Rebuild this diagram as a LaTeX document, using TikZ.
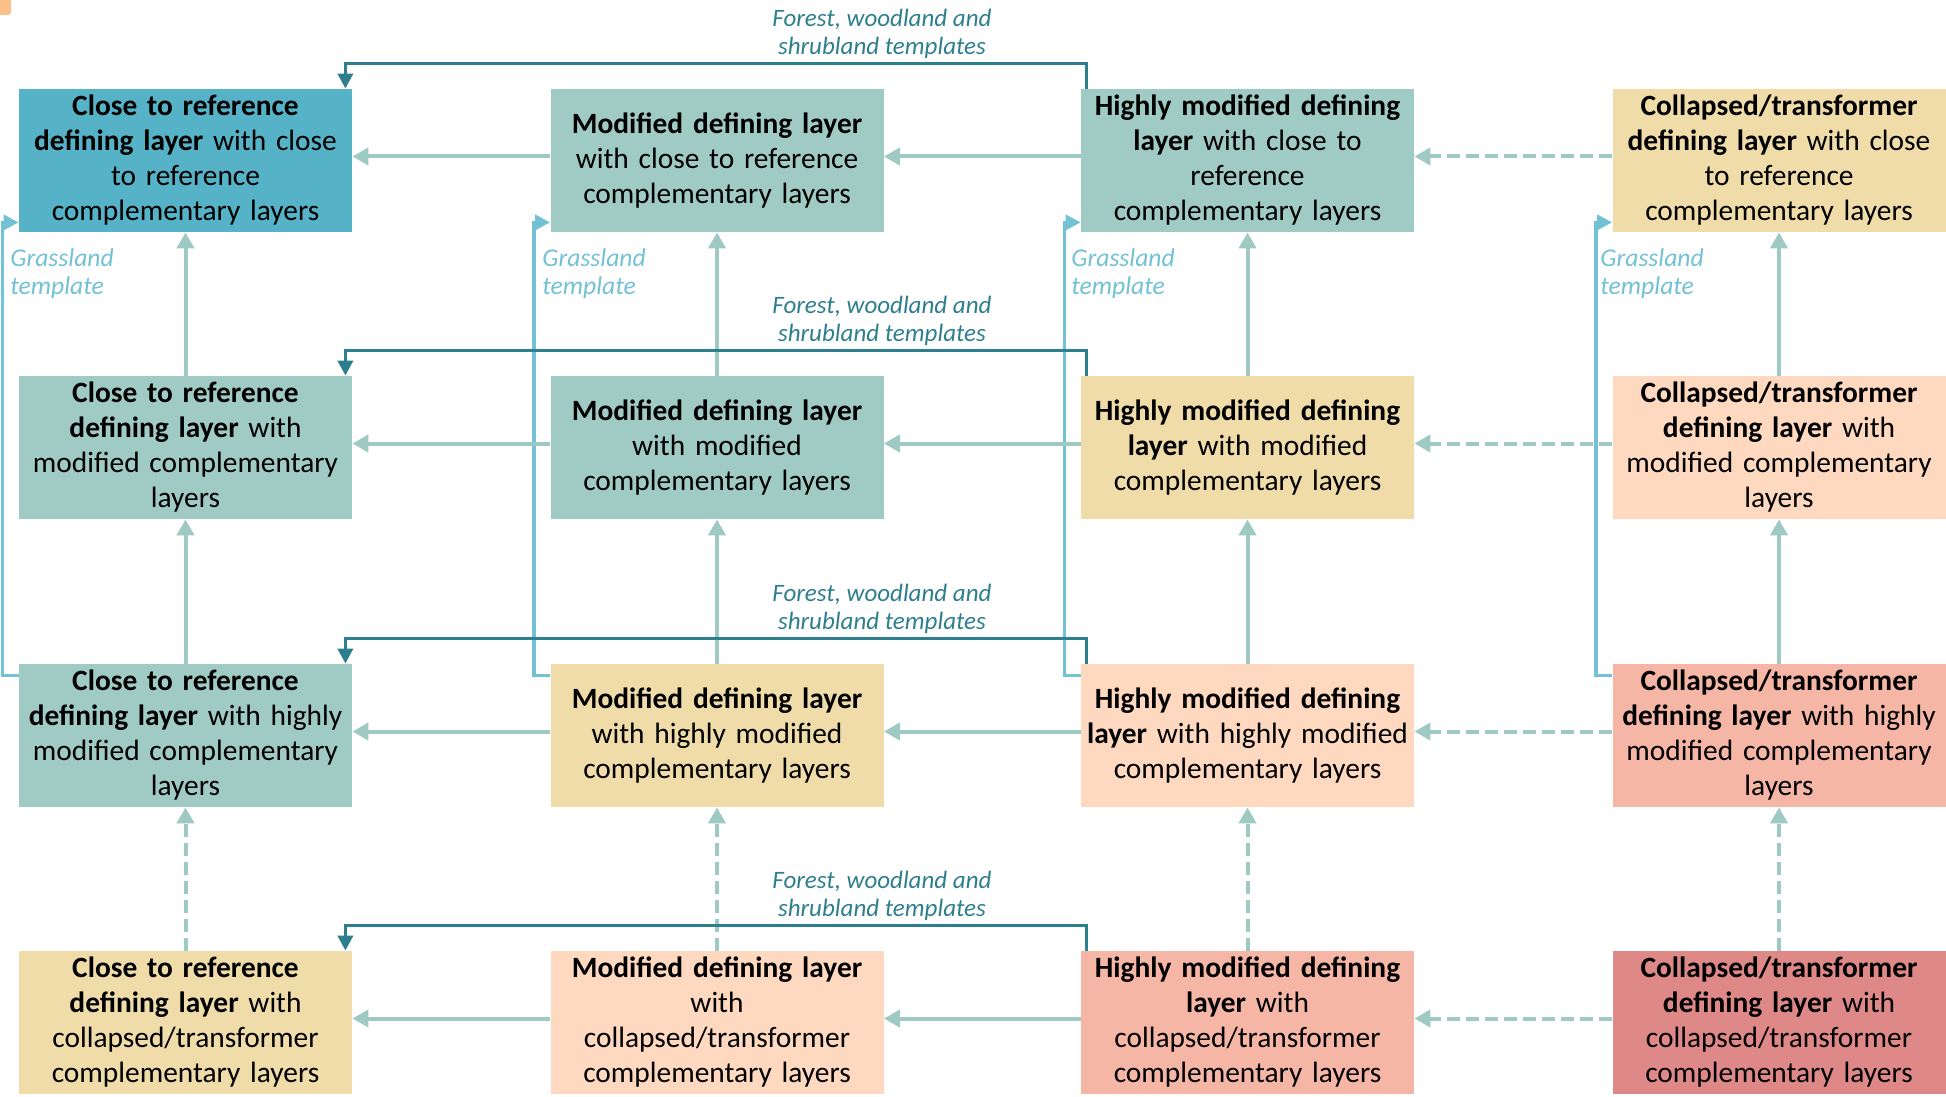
\documentclass[tikz,border=0pt]{standalone}
\usepackage{fontspec}
\setmainfont{Carlito}
\usetikzlibrary{arrows.meta}
\definecolor{cblue}{HTML}{56B3C7}
\definecolor{cteal}{HTML}{A0CBC4}
\definecolor{cwheat}{HTML}{EFDCA9}
\definecolor{cpeach}{HTML}{FED9BF}
\definecolor{csalmon}{HTML}{F5B6A6}
\definecolor{crose}{HTML}{DF8888}
\definecolor{carrow}{HTML}{9ECAC3}
\definecolor{cgrass}{HTML}{72C1D5}
\definecolor{cforest}{HTML}{2E7F8E}
\definecolor{ccorner}{HTML}{FBC08A}
\tikzset{
  box/.style={minimum width=166.5pt, minimum height=71.5pt, inner sep=0pt,
    text width=164pt, align=center, text=black,
    font=\fontsize{14.7}{17.5}\selectfont},
  flowarrow/.style={draw=carrow, line width=2pt, -{Triangle[length=8pt,width=8.5pt]}},
  dasharrow/.style={flowarrow, dash pattern=on 6.5pt off 3pt},
  grass/.style={draw=cgrass, line width=1.8pt, -{Triangle[length=7.5pt,width=7.5pt]}},
  forest/.style={draw=cforest, line width=1.8pt, -{Triangle[length=7.5pt,width=7.5pt]}},
  grasslabel/.style={anchor=west, align=left, inner sep=0pt, text=cgrass,
    font=\fontsize{12.8}{14}\selectfont\itshape},
  forestlabel/.style={align=center, inner sep=0pt, text=cforest,
    font=\fontsize{12.5}{14}\selectfont\itshape},
}
\begin{document}
\begin{tikzpicture}[x=0.5pt,y=-0.5pt]
\useasboundingbox (0,0) rectangle (1946,1096);
\fill[ccorner, rounded corners=1.5pt] (-6,-6) rectangle (11,15);

% row 1
\node[box, fill=cblue] (r1c1) at (185.5,160.5) {\textbf{Close to reference}\\\textbf{defining layer} with close\\to reference\\complementary layers};
\node[box, fill=cteal] (r1c2) at (717,160.5) {\textbf{Modified defining layer}\\with close to reference\\complementary layers};
\node[box, fill=cteal] (r1c3) at (1247.5,160.5) {\textbf{Highly modified defining}\\\textbf{layer} with close to\\reference\\complementary layers};
\node[box, fill=cwheat] (r1c4) at (1779,160.5) {\textbf{Collapsed/transformer}\\\textbf{defining layer} with close\\to reference\\complementary layers};
% row 2
\node[box, fill=cteal] (r2c1) at (185.5,447.5) {\textbf{Close to reference}\\\textbf{defining layer} with\\modified complementary\\layers};
\node[box, fill=cteal] (r2c2) at (717,447.5) {\textbf{Modified defining layer}\\with modified\\complementary layers};
\node[box, fill=cwheat] (r2c3) at (1247.5,447.5) {\textbf{Highly modified defining}\\\textbf{layer} with modified\\complementary layers};
\node[box, fill=cpeach] (r2c4) at (1779,447.5) {\textbf{Collapsed/transformer}\\\textbf{defining layer} with\\modified complementary\\layers};
% row 3
\node[box, fill=cteal] (r3c1) at (185.5,735.5) {\textbf{Close to reference}\\\textbf{defining layer} with highly\\modified complementary\\layers};
\node[box, fill=cwheat] (r3c2) at (717,735.5) {\textbf{Modified defining layer}\\with highly modified\\complementary layers};
\node[box, fill=cpeach] (r3c3) at (1247.5,735.5) {\textbf{Highly modified defining}\\\textbf{layer} with highly modified\\complementary layers};
\node[box, fill=csalmon] (r3c4) at (1779,735.5) {\textbf{Collapsed/transformer}\\\textbf{defining layer} with highly\\modified complementary\\layers};
% row 4
\node[box, fill=cwheat] (r4c1) at (185.5,1022.5) {\textbf{Close to reference}\\\textbf{defining layer} with\\collapsed/transformer\\complementary layers};
\node[box, fill=cpeach] (r4c2) at (717,1022.5) {\textbf{Modified defining layer}\\with\\collapsed/transformer\\complementary layers};
\node[box, fill=csalmon] (r4c3) at (1247.5,1022.5) {\textbf{Highly modified defining}\\\textbf{layer} with\\collapsed/transformer\\complementary layers};
\node[box, fill=crose] (r4c4) at (1779,1022.5) {\textbf{Collapsed/transformer}\\\textbf{defining layer} with\\collapsed/transformer\\complementary layers};

% grassland template connectors
\foreach \c in {1,2,3,4}{
  \draw[grass] ([yshift=-6pt]r3c\c.north west) -- ++(-16,0) |- ([yshift=5pt]r1c\c.south west);
}
\node[grasslabel] (g1) at (10,274) {Grassland\\template};
\node[grasslabel] (g2) at (542,274) {Grassland\\template};
\node[grasslabel] (g3) at (1071,274) {Grassland\\template};
\node[grasslabel] (g4) at (1600,274) {Grassland\\template};

% horizontal arrows
\foreach \r in {1,2,3,4}{
  \draw[flowarrow] ([yshift=2pt]r\r c2.west) -- ([yshift=2pt]r\r c1.east);
  \draw[flowarrow] ([yshift=2pt]r\r c3.west) -- ([yshift=2pt]r\r c2.east);
  \draw[dasharrow] ([yshift=2pt]r\r c4.west) -- ([yshift=2pt]r\r c3.east);
}
% vertical arrows
\foreach \c in {1,2,3,4}{
  \draw[flowarrow] (r2c\c.north) -- (r1c\c.south);
  \draw[flowarrow] (r3c\c.north) -- (r2c\c.south);
  \draw[dasharrow] (r4c\c.north) -- (r3c\c.south);
}

% forest, woodland and shrubland template connectors
\foreach \r in {1,2,3,4}{
  \draw[forest] ([xshift=3pt]r\r c3.north west) -- ++(0,-25) -| ([xshift=-3.5pt]r\r c1.north east);
}
\node[forestlabel] (f1) at (882,34) {Forest, woodland and\\shrubland templates};
\node[forestlabel] (f2) at (882,321) {Forest, woodland and\\shrubland templates};
\node[forestlabel] (f3) at (882,609) {Forest, woodland and\\shrubland templates};
\node[forestlabel] (f4) at (882,896) {Forest, woodland and\\shrubland templates};
\end{tikzpicture}
\end{document}
